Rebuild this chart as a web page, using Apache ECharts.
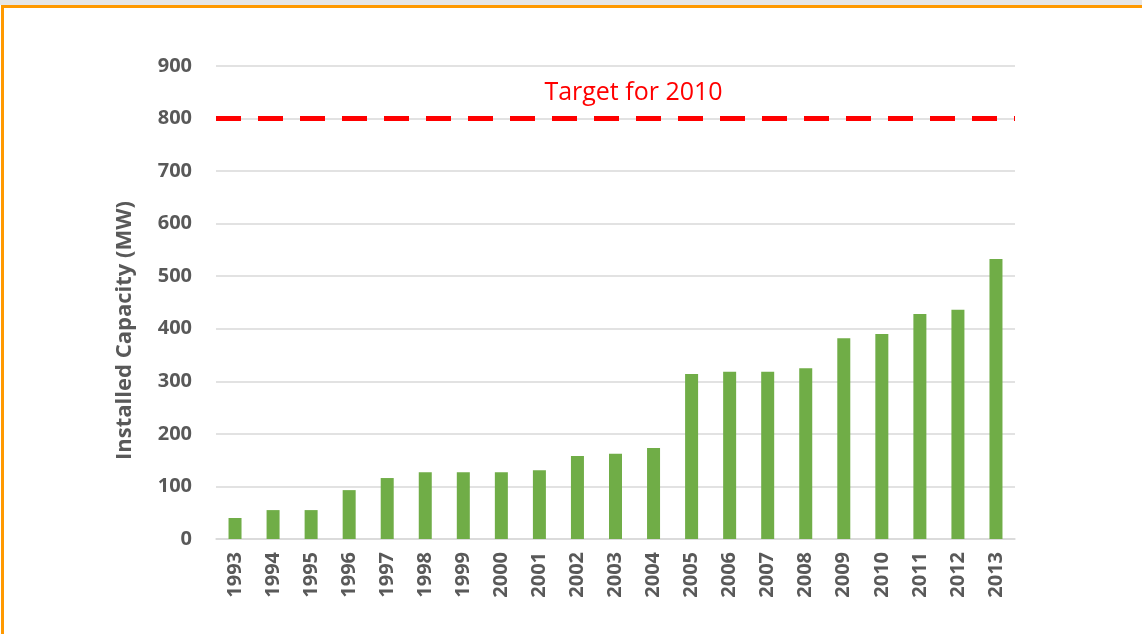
<!DOCTYPE html>
<html>
<head>
<meta charset="utf-8">
<script src="https://cdn.jsdelivr.net/npm/echarts@6/dist/echarts.min.js"></script>
<style>
  html, body { margin: 0; padding: 0; background: #fff; }
  #strip { position: absolute; left: 0; top: 0; width: 1142px; height: 5px; background: #e6e6e6; }
  #frame { position: absolute; left: 1px; top: 5px; width: 1141px; height: 629px;
           border-top: 3px solid #ff9900; border-left: 3px solid #ff9900; box-sizing: border-box; }
  #main { position: absolute; left: 0; top: 0; width: 1142px; height: 634px; }
</style>
</head>
<body>
<div id="strip"></div>
<div id="frame"></div>
<div id="main"></div>
<script>
const years = ['1993','1994','1995','1996','1997','1998','1999','2000','2001','2002','2003',
  '2004','2005','2006','2007','2008','2009','2010','2011','2012','2013'];
const capacity = [40, 55, 55, 93, 116, 127, 127, 127, 131, 158, 162,
  173, 314, 318, 318, 325, 382, 390, 428, 436, 533];
const target = 800;
const targetLabel = 'Target for 2010';
const yTicks = { min: 0, max: 900, interval: 100 };

const labelFont = { fontFamily: 'Open Sans', fontWeight: 'bold', fontSize: 20, color: '#595959' };

const chart = echarts.init(document.getElementById('main'));

chart.setOption({
  animation: false,
  grid: { left: 216, right: 127, top: 66, bottom: 95 },
  xAxis: {
    type: 'category',
    data: years,
    axisLine: { lineStyle: { color: '#d9d9d9', width: 1.5 } },
    axisTick: { show: false },
    axisLabel: Object.assign({ rotate: 90, margin: 13, interval: 0 }, labelFont)
  },
  yAxis: {
    type: 'value',
    min: yTicks.min,
    max: yTicks.max,
    interval: yTicks.interval,
    name: 'Installed Capacity (MW)',
    nameLocation: 'middle',
    nameGap: 80,
    nameTextStyle: {
      fontFamily: 'Open Sans', fontWeight: 'bold', fontSize: 22, color: '#595959',
      padding: [0, 56, 0, 0]
    },
    axisLine: { show: false },
    axisTick: { show: false },
    axisLabel: Object.assign({ margin: 24 }, labelFont),
    splitLine: { lineStyle: { color: '#d9d9d9', width: 1.5 } }
  },
  series: [{
    type: 'bar',
    data: capacity,
    barWidth: 13,
    itemStyle: { color: '#70ad47' },
    markLine: {
      silent: true,
      symbol: 'none',
      lineStyle: { color: '#ff0000', width: 5, type: [25, 17], opacity: 1 },
      label: {
        show: true,
        position: 'insideMiddleTop',
        formatter: targetLabel,
        color: '#ff0000',
        fontFamily: 'Open Sans',
        fontSize: 25,
        distance: 13,
        offset: [18, 0]
      },
      data: [{ yAxis: target }]
    }
  }]
});
</script>
</body>
</html>
